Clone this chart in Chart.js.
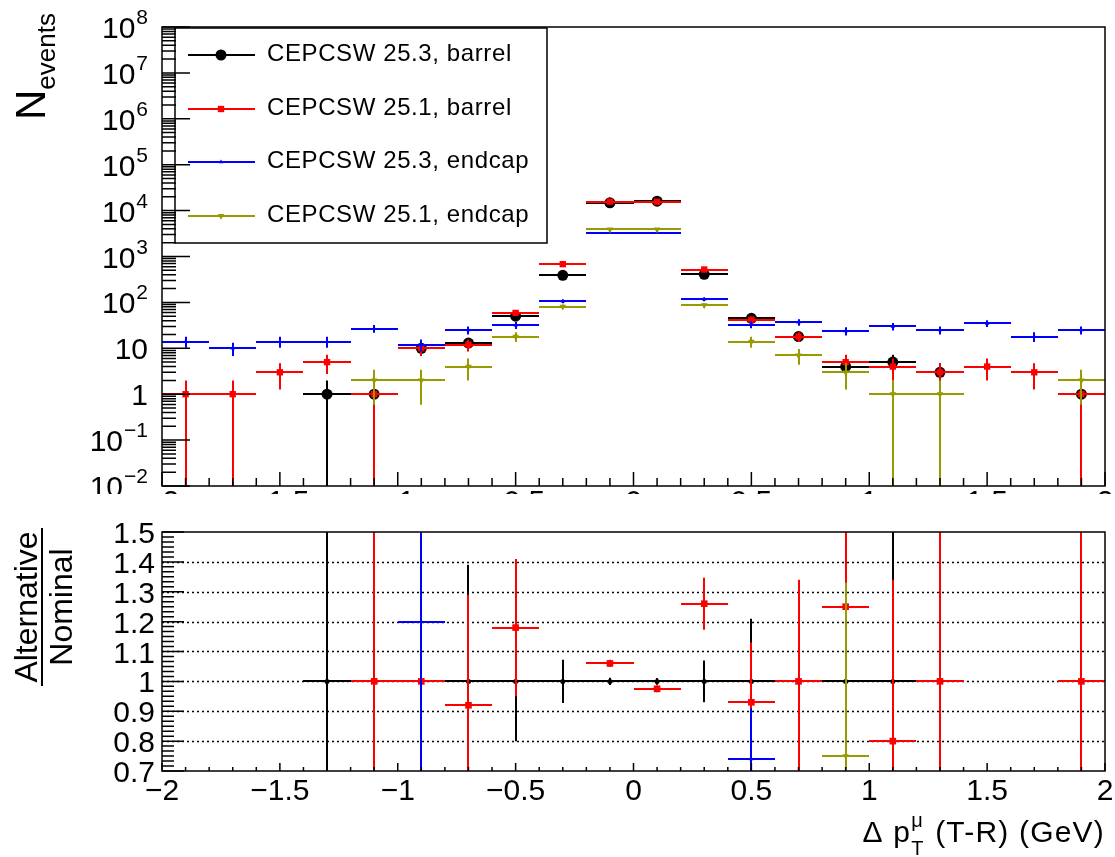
<!DOCTYPE html>
<html>
<head>
<meta charset="utf-8">
<script src="https://cdn.jsdelivr.net/npm/chart.js@4.4.1/dist/chart.umd.min.js"></script>
<style>
html, body { margin: 0; padding: 0; background: #fff; }
canvas { position: absolute; left: 0; }
#topPad { top: 0; }
#ratioPad { top: 494px; }
</style>
</head>
<body>
<canvas id="topPad" width="1115" height="494"></canvas>
<canvas id="ratioPad" width="1115" height="363"></canvas>
<script>
const FONT = '"Liberation Sans", Arial, Helvetica, sans-serif';

// bins of delta pT (GeV), width 0.2
const binCenters = [-1.9, -1.7, -1.5, -1.3, -1.1, -0.9, -0.7, -0.5, -0.3, -0.1, 0.1, 0.3, 0.5, 0.7, 0.9, 1.1, 1.3, 1.5, 1.7, 1.9];
const binHalfWidth = 0.1;

// upper pad, number of events (null = empty bin)
const barrel253 = [null, null, null, 1, 1, 10, 13, 50, 390, 14800, 16000, 410, 45, 18, 4, 5, 3, null, null, 1];
const barrel251 = [1, 1, 3, 5, 1, 10, 12, 59, 680, 15700, 15600, 520, 42, 18, 5, 4, 3, 4, 3, 1];
const endcap253 = [14, 10, 14, 14, 27, 12, 25, 32, 106, 3300, 3300, 117, 33, 37, 24, 30, 25, 35, 18, 25];
const endcap251 = [null, null, null, null, 2, 2, 4, 18, 81, 3900, 3900, 87, 14, 7, 3, 1, 1, null, null, 2];

// lower pad, ratio to CEPCSW 25.3 barrel (only points inside 0.7 - 1.5 are shown)
const ratioBarrel253 = [null, null, null, 1, 1, 1, 1, 1, 1, 1, 1, 1, 1, 1, 1, 1, 1, null, null, 1];
const ratioBarrel253Err = [null, null, null, 1.41, 1.41, 0.45, 0.39, 0.2, 0.072, 0.012, 0.011, 0.07, 0.21, 0.33, 0.71, 0.63, 0.82, null, null, 1.41];
const ratioBarrel251 = [null, null, null, null, 1, 1, 0.92, 1.18, null, 1.06, 0.975, 1.26, 0.93, 1, 1.25, 0.8, 1, null, null, 1];
const ratioBarrel251Err = [null, null, null, null, 1.41, 0.45, 0.37, 0.23, null, 0.012, 0.011, 0.087, 0.2, 0.34, 0.84, 0.54, 0.82, null, null, 1.41];
const ratioEndcap253 = [null, null, null, null, null, 1.2, null, null, null, null, null, null, 0.74, null, null, null, null, null, null, null];
const ratioEndcap253Err = [null, null, null, null, null, 0.51, null, null, null, null, null, null, 0.17, null, null, null, null, null, null, null];
const ratioEndcap251 = [null, null, null, null, null, null, null, null, null, null, null, null, null, null, 0.75, null, null, null, null, null];
const ratioEndcap251Err = [null, null, null, null, null, null, null, null, null, null, null, null, null, null, 0.58, null, null, null, null, null];

const seriesLabels = ['CEPCSW 25.3, barrel', 'CEPCSW 25.1, barrel', 'CEPCSW 25.3, endcap', 'CEPCSW 25.1, endcap'];

// tick labels
const logExponents = [-2, -1, 0, 1, 2, 3, 4, 5, 6, 7, 8];
const xTickValues = [-2, -1.5, -1, -0.5, 0, 0.5, 1, 1.5, 2];
const xTickLabels = ['\u22122', '\u22121.5', '\u22121', '\u22120.5', '0', '0.5', '1', '1.5', '2'];
const ratioTickValues = [0.7, 0.8, 0.9, 1, 1.1, 1.2, 1.3, 1.4, 1.5];
const ratioTickLabels = ['0.7', '0.8', '0.9', '1', '1.1', '1.2', '1.3', '1.4', '1.5'];

// marker styles: big marker for top pad, small one for ratio pad
const styles = [
    { color: '#000000', shape: 'circle', r: 5.5, rr: 2.5, rot: 0 },
    { color: '#ff0000', shape: 'rect', r: 4.5, rr: 4.7, rot: 0 },
    { color: '#0000ff', shape: 'triangle', r: 2.6, rr: 2.6, rot: 0 },
    { color: '#999900', shape: 'triangle', r: 3.8, rr: 3.5, rot: 180 }
];

function toPoints(vals, errs) {
    const out = [];
    vals.forEach((v, i) => {
        if (v === null) return;
        // top pad uses Poisson errors sqrt(N), ratio pad has its own
        out.push({ x: binCenters[i], y: v, ex: binHalfWidth, ey: errs ? errs[i] : Math.sqrt(v) });
    });
    return out;
}

function makeDataset(i, data, small) {
    const s = styles[i];
    return {
        label: seriesLabels[i],
        data: data,
        showLine: false,
        pointStyle: s.shape,
        pointRadius: small ? s.rr : s.r,
        pointRotation: s.rot,
        pointBackgroundColor: s.color,
        pointBorderColor: s.color,
        pointBorderWidth: 0,
        borderColor: s.color,
        backgroundColor: s.color,
        order: 4 - i
    };
}

// error bars, drawn right before each dataset's markers
const errorBars = {
    id: 'errorBars',
    beforeDatasetDraw(chart, args) {
        const ds = chart.data.datasets[args.index];
        const xs = chart.scales.x, ys = chart.scales.y;
        const a = chart.chartArea, ctx = chart.ctx;
        ctx.save();
        ctx.beginPath();
        ctx.rect(a.left, a.top, a.right - a.left, a.bottom - a.top);
        ctx.clip();
        ctx.strokeStyle = ds.borderColor;
        ctx.lineWidth = 2;
        ctx.beginPath();
        ds.data.forEach(p => {
            const px = Math.round(xs.getPixelForValue(p.x));
            const py = Math.round(ys.getPixelForValue(p.y));
            ctx.moveTo(Math.round(xs.getPixelForValue(p.x - p.ex)), py);
            ctx.lineTo(Math.round(xs.getPixelForValue(p.x + p.ex)), py);
            const lo = p.y - p.ey;
            const plo = lo > 0 ? ys.getPixelForValue(lo) : a.bottom + 5;
            ctx.moveTo(px, plo);
            ctx.lineTo(px, ys.getPixelForValue(p.y + p.ey));
        });
        ctx.stroke();
        ctx.restore();
    }
};

function marker(ctx, s, radius, x, y) {
    ctx.fillStyle = s.color;
    ctx.strokeStyle = s.color;
    if (Chart.helpers && Chart.helpers.drawPoint) {
        Chart.helpers.drawPoint(ctx, { pointStyle: s.shape, radius: radius, rotation: s.rot, borderWidth: 0 }, x, y);
    } else {
        ctx.beginPath();
        ctx.arc(x, y, radius, 0, Math.PI * 2);
        ctx.fill();
    }
}

function drawLegend(ctx) {
    const left = 175, top = 28, right = 547, bottom = 243;
    ctx.save();
    ctx.fillStyle = '#fff';
    ctx.fillRect(left, top, right - left, bottom - top);
    ctx.strokeStyle = '#000';
    ctx.lineWidth = 1.5;
    ctx.strokeRect(left, top, right - left, bottom - top);
    const h = (bottom - top) / 4;
    seriesLabels.forEach((lab, i) => {
        const y = Math.round(top + h * (i + 0.5));
        const s = styles[i];
        ctx.strokeStyle = s.color;
        ctx.lineWidth = 2;
        ctx.beginPath();
        ctx.moveTo(188, y);
        ctx.lineTo(255, y);
        ctx.stroke();
        marker(ctx, s, s.r, 221, y);
        ctx.fillStyle = '#000';
        ctx.font = '24px ' + FONT;
        ctx.letterSpacing = '0.6px';
        ctx.textAlign = 'left';
        ctx.textBaseline = 'alphabetic';
        ctx.fillText(lab, 267, y + 6);
        ctx.letterSpacing = '0px';
    });
    ctx.restore();
}

function drawPowerLabel(ctx, exp, xRight, yMid) {
    ctx.textAlign = 'left';
    ctx.textBaseline = 'alphabetic';
    const base = yMid + 11;
    if (exp === 0 || exp === 1) {
        const t = exp === 0 ? '1' : '10';
        ctx.font = '30px ' + FONT;
        ctx.fillText(t, xRight - ctx.measureText(t).width, base);
        return;
    }
    const e = String(exp).replace('-', '\u2212');
    ctx.font = '21px ' + FONT;
    const we = ctx.measureText(e).width;
    ctx.fillText(e, xRight - we, base - 14);
    ctx.font = '30px ' + FONT;
    const wb = ctx.measureText('10').width;
    ctx.fillText('10', xRight - we - wb - 1, base);
}

const upperDecor = {
    id: 'upperDecor',
    afterDatasetsDraw(chart) {
        const ctx = chart.ctx, a = chart.chartArea;
        const xs = chart.scales.x, ys = chart.scales.y;
        drawLegend(ctx);
        ctx.save();
        ctx.strokeStyle = '#000';
        ctx.lineWidth = 1.5;
        ctx.strokeRect(a.left, a.top, a.right - a.left, a.bottom - a.top);
        ctx.beginPath();
        for (let k = -20; k <= 20; k++) {
            const px = xs.getPixelForValue(k / 10);
            const len = k % 5 === 0 ? 14 : 8;
            ctx.moveTo(px, a.bottom);
            ctx.lineTo(px, a.bottom - len);
        }
        logExponents.forEach(e => {
            for (let m = 1; m <= 9; m++) {
                if (e === 8 && m > 1) break;
                const py = ys.getPixelForValue(m * Math.pow(10, e));
                ctx.moveTo(a.left, py);
                ctx.lineTo(a.left + (m === 1 ? 28 : 14), py);
            }
        });
        ctx.stroke();

        ctx.fillStyle = '#000';
        logExponents.forEach(e => drawPowerLabel(ctx, e, a.left - 14, ys.getPixelForValue(Math.pow(10, e))));

        // x labels of the top pad, mostly hidden under the ratio pad
        ctx.font = '30px ' + FONT;
        ctx.textAlign = 'center';
        ctx.textBaseline = 'alphabetic';
        xTickValues.forEach((v, i) => ctx.fillText(xTickLabels[i], xs.getPixelForValue(v), 511));

        // y title N_events
        ctx.save();
        ctx.translate(0, 120);
        ctx.rotate(-Math.PI / 2);
        ctx.textAlign = 'left';
        ctx.font = '42px ' + FONT;
        ctx.fillText('N', 0, 45);
        const wN = ctx.measureText('N').width;
        ctx.font = '26px ' + FONT;
        ctx.fillText('events', wN, 55);
        ctx.restore();
        ctx.restore();
    }
};

const ratioDecor = {
    id: 'ratioDecor',
    beforeDatasetsDraw(chart) {
        const ctx = chart.ctx, a = chart.chartArea, ys = chart.scales.y;
        ctx.save();
        ctx.strokeStyle = '#000';
        ctx.lineWidth = 1.5;
        ctx.setLineDash([2, 3]);
        ctx.beginPath();
        ratioTickValues.forEach(v => {
            if (v <= 0.7 || v >= 1.5) return;
            const py = Math.round(ys.getPixelForValue(v)) + 0.5;
            ctx.moveTo(a.left, py);
            ctx.lineTo(a.right, py);
        });
        ctx.stroke();
        ctx.restore();
    },
    afterDatasetsDraw(chart) {
        const ctx = chart.ctx, a = chart.chartArea;
        const xs = chart.scales.x, ys = chart.scales.y;
        ctx.save();
        ctx.strokeStyle = '#000';
        ctx.lineWidth = 1.5;
        ctx.strokeRect(a.left, a.top, a.right - a.left, a.bottom - a.top);
        ctx.beginPath();
        for (let k = -20; k <= 20; k++) {
            const px = xs.getPixelForValue(k / 10);
            const len = k % 5 === 0 ? 8 : 4;
            ctx.moveTo(px, a.bottom);
            ctx.lineTo(px, a.bottom - len);
        }
        for (let k = 0; k <= 48; k++) {
            const py = ys.getPixelForValue(0.7 + k / 60);
            ctx.moveTo(a.left, py);
            ctx.lineTo(a.left + (k % 6 === 0 ? 22 : 12), py);
        }
        ctx.stroke();

        ctx.fillStyle = '#000';
        ctx.font = '30px ' + FONT;
        ctx.textBaseline = 'alphabetic';
        ctx.textAlign = 'right';
        ratioTickValues.forEach((v, i) => ctx.fillText(ratioTickLabels[i], a.left - 7, ys.getPixelForValue(v) + 11));
        ctx.textAlign = 'center';
        xTickValues.forEach((v, i) => ctx.fillText(xTickLabels[i], xs.getPixelForValue(v), a.bottom + 29));

        // x title: Delta p_T^mu (T-R) (GeV), right aligned to the frame
        const base = 348;
        ctx.textAlign = 'left';
        ctx.letterSpacing = '1.2px';
        ctx.font = '30px ' + FONT;
        const p1 = '\u0394 p', p2 = ' (T-R) (GeV)';
        const w1 = ctx.measureText(p1).width, w2 = ctx.measureText(p2).width;
        ctx.font = '20px ' + FONT;
        const wSub = Math.max(ctx.measureText('T').width, ctx.measureText('\u03bc').width) + 1;
        const x0 = a.right - (w1 + wSub + w2);
        ctx.font = '30px ' + FONT;
        ctx.fillText(p1, x0, base);
        ctx.font = '20px ' + FONT;
        ctx.fillText('\u03bc', x0 + w1, base - 15);
        ctx.fillText('T', x0 + w1, base + 13);
        ctx.font = '30px ' + FONT;
        ctx.fillText(p2, x0 + w1 + wSub, base);
        ctx.letterSpacing = '0px';

        // y title: Alternative / Nominal
        ctx.save();
        ctx.translate(0, 113);
        ctx.rotate(-Math.PI / 2);
        ctx.textAlign = 'center';
        ctx.font = '32px ' + FONT;
        ctx.fillText('Alternative', 0, 37);
        ctx.fillText('Nominal', 0, 72);
        ctx.lineWidth = 2;
        ctx.beginPath();
        ctx.moveTo(-79, 42);
        ctx.lineTo(79, 42);
        ctx.stroke();
        ctx.restore();
        ctx.restore();
    }
};

const commonOptions = {
    responsive: false,
    animation: false,
    events: [],
    plugins: { legend: { display: false }, tooltip: { enabled: false } }
};

const topChart = new Chart(document.getElementById('topPad'), {
    type: 'scatter',
    data: {
        datasets: [
            makeDataset(0, toPoints(barrel253), false),
            makeDataset(1, toPoints(barrel251), false),
            makeDataset(2, toPoints(endcap253), false),
            makeDataset(3, toPoints(endcap251), false)
        ]
    },
    options: Object.assign({}, commonOptions, {
        layout: { padding: { left: 162, right: 10, top: 27, bottom: 8 } },
        scales: {
            x: { type: 'linear', min: -2, max: 2, display: false },
            y: { type: 'logarithmic', min: 0.01, max: 1e8, display: false }
        }
    }),
    plugins: [errorBars, upperDecor]
});

const ratioChart = new Chart(document.getElementById('ratioPad'), {
    type: 'scatter',
    data: {
        datasets: [
            makeDataset(0, toPoints(ratioBarrel253, ratioBarrel253Err), true),
            makeDataset(1, toPoints(ratioBarrel251, ratioBarrel251Err), true),
            makeDataset(2, toPoints(ratioEndcap253, ratioEndcap253Err), true),
            makeDataset(3, toPoints(ratioEndcap251, ratioEndcap251Err), true)
        ]
    },
    options: Object.assign({}, commonOptions, {
        layout: { padding: { left: 162, right: 10, top: 38, bottom: 86 } },
        scales: {
            x: { type: 'linear', min: -2, max: 2, display: false },
            y: { type: 'linear', min: 0.7, max: 1.5, display: false }
        }
    }),
    plugins: [errorBars, ratioDecor]
});
</script>
</body>
</html>
